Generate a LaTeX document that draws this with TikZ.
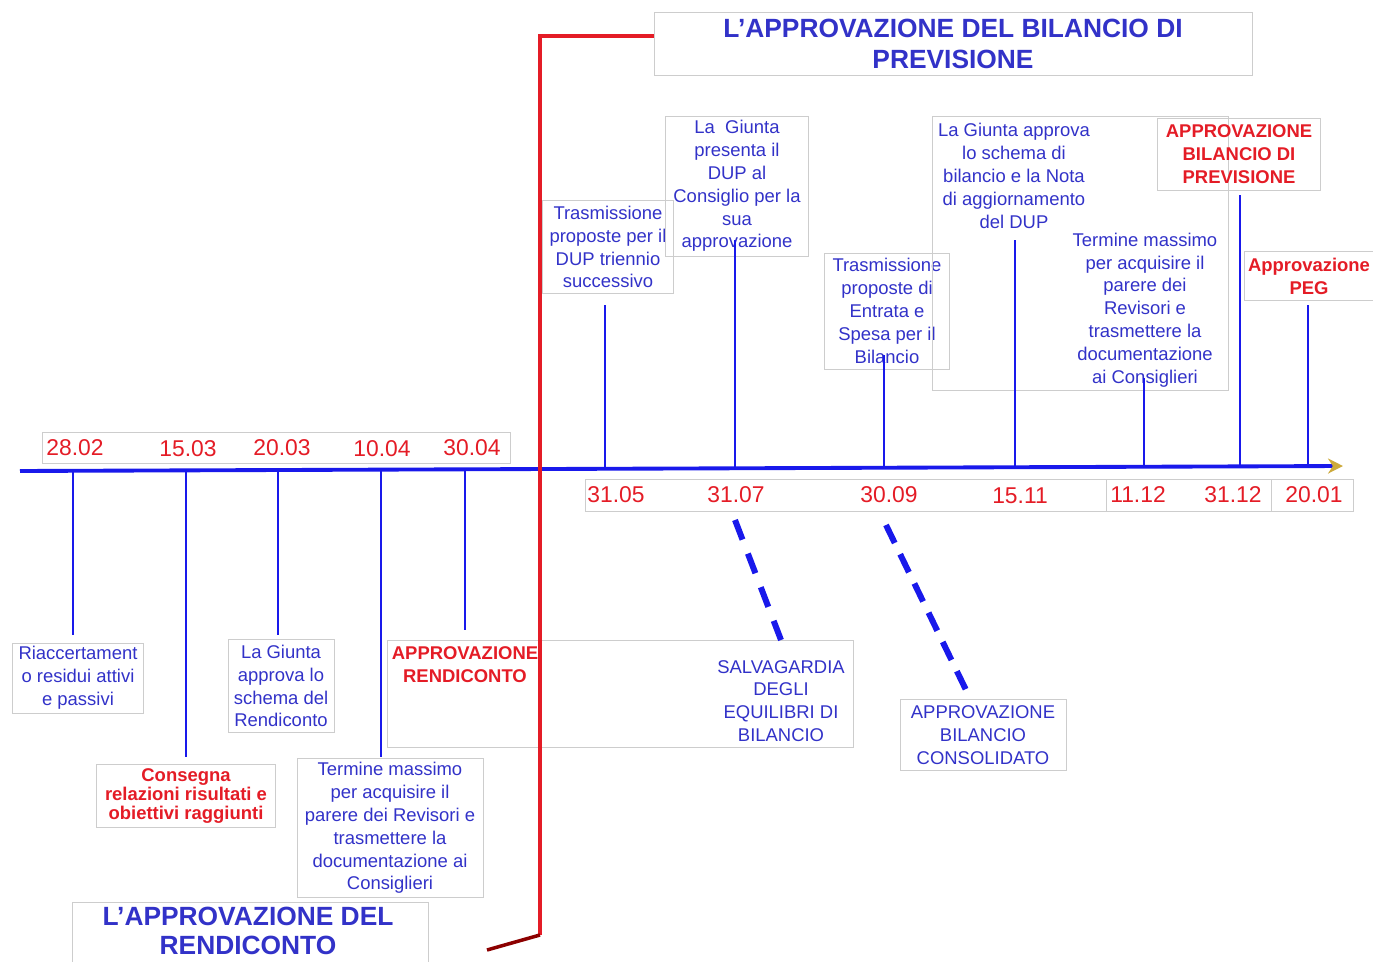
\documentclass[tikz,border=0pt]{standalone}
\usepackage{fontspec}
\setmainfont{Liberation Sans}
\usetikzlibrary{arrows.meta}
\definecolor{blutesto}{RGB}{50,50,200}
\definecolor{bluasse}{RGB}{25,25,235}
\definecolor{rosso}{RGB}{228,28,38}
\definecolor{bordo}{RGB}{205,205,205}
\definecolor{oro}{RGB}{205,170,60}
\tikzset{
  box/.style={draw=bordo, line width=.5pt, inner sep=0pt, align=center, text=blutesto, font=\fontsize{10.5}{13}\selectfont},
  rbox/.style={box, text=rosso, font=\bfseries\fontsize{10.5}{13}\selectfont},
  testo/.style={box, draw=none},
  titolo/.style={box, font=\bfseries\fontsize{15}{17.5}\selectfont},
  data/.style={text=rosso, inner sep=0pt, font=\fontsize{13}{15}\selectfont},
  tacca/.style={draw=bluasse, line width=1.1pt},
  tratteggio/.style={draw=bluasse, line width=3.4pt},
  rossa/.style={draw=rosso, line width=2pt}
}
\begin{document}
\begin{tikzpicture}[x=0.02cm, y=-0.02cm]
	\useasboundingbox (0,0) rectangle (1373,962);
				%Asse
				\coordinate (axL) at (20,471);
				\coordinate (axR) at (1343,466);
				\draw[draw=bluasse, line width=2.2pt, -{Stealth[length=0.3cm, width=0.3cm, color=oro]}] (axL)--(axR);
				%Date
				\draw[bordo, line width=.5pt] (42,432) rectangle (510,463);
				\node[data] (d2802) at (75,448) {28.02};
				\node[data] (d1503) at (188,449) {15.03};
				\node[data] (d2003) at (282,448) {20.03};
				\node[data] (d1004) at (382,449) {10.04};
				\node[data] (d3004) at (472,448) {30.04};
				\draw[bordo, line width=.5pt] (585,479) rectangle (1353,511);
				\draw[bordo, line width=.5pt] (1106,479) rectangle (1271,511);
				\node[data] (d3105) at (616,495) {31.05};
				\node[data] (d3107) at (736,495) {31.07};
				\node[data] (d3009) at (889,495) {30.09};
				\node[data] (d1511) at (1020,496) {15.11};
				\node[data] (d1112) at (1138,495) {11.12};
				\node[data] (d3112) at (1233,495) {31.12};
				\node[data] (d2001) at (1314,495) {20.01};

				%Titoli
				\node[titolo, minimum width=11.96cm, minimum height=1.26cm] (titB) at (953,44) {L’APPROVAZIONE DEL BILANCIO DI\\PREVISIONE};
				\draw[bordo, line width=.5pt] (72,902) rectangle (428,975);
				\node[titolo, draw=none, font=\bfseries\fontsize{15}{16.5}\selectfont] (titR) at (248,931) {L’APPROVAZIONE DEL\\RENDICONTO};

				%Rendiconto
				\node[box, minimum width=2.62cm, minimum height=1.4cm] (riac) at (78,678) {Riaccertament\\o residui attivi\\e passivi};
				\node[rbox, font=\bfseries\fontsize{10.5}{11}\selectfont, minimum width=3.58cm, minimum height=1.26cm] (cons) at (186,796) {Consegna\\relazioni risultati e\\obiettivi raggiunti};
				\node[box, minimum width=2.12cm, minimum height=1.86cm] (giuR) at (281,686) {La Giunta\\approva lo\\schema del\\Rendiconto};
				\node[box, minimum width=3.72cm, minimum height=2.78cm] (terR) at (390,828) {Termine massimo\\per acquisire il\\parere dei Revisori e\\trasmettere la\\documentazione ai\\Consiglieri};
				\draw[bordo, line width=.5pt] (387,640) rectangle (853,747);
				\node[testo, text=rosso, font=\bfseries\fontsize{10.5}{13}\selectfont] (appR) at (465,665) {APPROVAZIONE\\RENDICONTO};
				\node[testo] (salv) at (781,701) {SALVAGARDIA\\DEGLI\\EQUILIBRI DI\\BILANCIO};
				\node[box, minimum width=3.32cm, minimum height=1.42cm] (cbil) at (983,735) {APPROVAZIONE\\BILANCIO\\CONSOLIDATO};

				%Previsione
				\node[box, minimum width=2.62cm, minimum height=1.86cm] (tra1) at (608,247) {Trasmissione\\proposte per il\\DUP triennio\\successivo};
				\node[box, minimum width=2.86cm, minimum height=2.8cm] (giuP) at (737,186) {La\ \ Giunta\\presenta il\\DUP al\\Consiglio per la\\sua\\approvazione};
				\node[box, minimum width=2.5cm, minimum height=2.32cm] (tra2) at (887,311) {Trasmissione\\proposte di\\Entrata e\\Spesa per il\\Bilancio};
				\draw[bordo, line width=.5pt] (932,116) rectangle (1228,390);
				\node[testo] (giuB) at (1014,176) {La Giunta approva\\lo schema di\\bilancio e la Nota\\di aggiornamento\\del DUP};
				\node[testo] (terB) at (1145,310) {Termine massimo\\per acquisire il\\parere dei\\Revisori e\\trasmettere la\\documentazione\\ai Consiglieri};
				\node[rbox, minimum width=3.26cm, minimum height=1.44cm] (appB) at (1239,154) {APPROVAZIONE\\BILANCIO DI\\PREVISIONE};
				\node[rbox, minimum width=2.58cm, minimum height=0.98cm] (peg) at (1309,276) {Approvazione\\PEG};

				%Tacche sotto
				\coordinate (a1) at (73,471);   \coordinate (b1) at (73,635);
				\coordinate (a2) at (186,470);  \coordinate (b2) at (186,757);
				\coordinate (a3) at (278,470);  \coordinate (b3) at (278,635);
				\coordinate (a4) at (381,470);  \coordinate (b4) at (381,757);
				\coordinate (a5) at (465,469);  \coordinate (b5) at (465,630);
				\draw[tacca] (a1)--(b1);
				\draw[tacca] (a2)--(b2);
				\draw[tacca] (a3)--(b3);
				\draw[tacca] (a4)--(b4);
				\draw[tacca] (a5)--(b5);
				%Tacche sopra
				\coordinate (a6) at (605,468);   \coordinate (b6) at (605,305);
				\coordinate (a7) at (735,468);   \coordinate (b7) at (735,240);
				\coordinate (a8) at (884,467);   \coordinate (b8) at (884,355);
				\coordinate (a9) at (1015,467);  \coordinate (b9) at (1015,240);
				\coordinate (a10) at (1144,467); \coordinate (b10) at (1144,378);
				\coordinate (a11) at (1240,467); \coordinate (b11) at (1240,195);
				\coordinate (a12) at (1308,467); \coordinate (b12) at (1308,305);
				\draw[tacca] (a6)--(b6);
				\draw[tacca] (a7)--(b7);
				\draw[tacca] (a8)--(b8);
				\draw[tacca] (a9)--(b9);
				\draw[tacca] (a10)--(b10);
				\draw[tacca] (a11)--(b11);
				\draw[tacca] (a12)--(b12);

				%Tratteggi
				\coordinate (s1) at (735,520);
				\coordinate (s2) at (781,640);
				\coordinate (c1) at (886,525);
				\coordinate (c2) at (966,690);
				\draw[tratteggio, dash pattern=on 0.42cm off 0.3cm] (s1)--(s2);
				\draw[tratteggio, dash pattern=on 0.4cm off 0.25cm] (c1)--(c2);

				%Linea rossa
				\coordinate (r1) at (654,36);
				\coordinate (r2) at (540,36);
				\coordinate (r3) at (540,935);
				\coordinate (r4) at (487,950);
				\draw[rossa] (r1)--(r2)--(r3);
				\draw[rossa, draw=red!55!black] (r3)--(r4);
\end{tikzpicture}
\end{document}
